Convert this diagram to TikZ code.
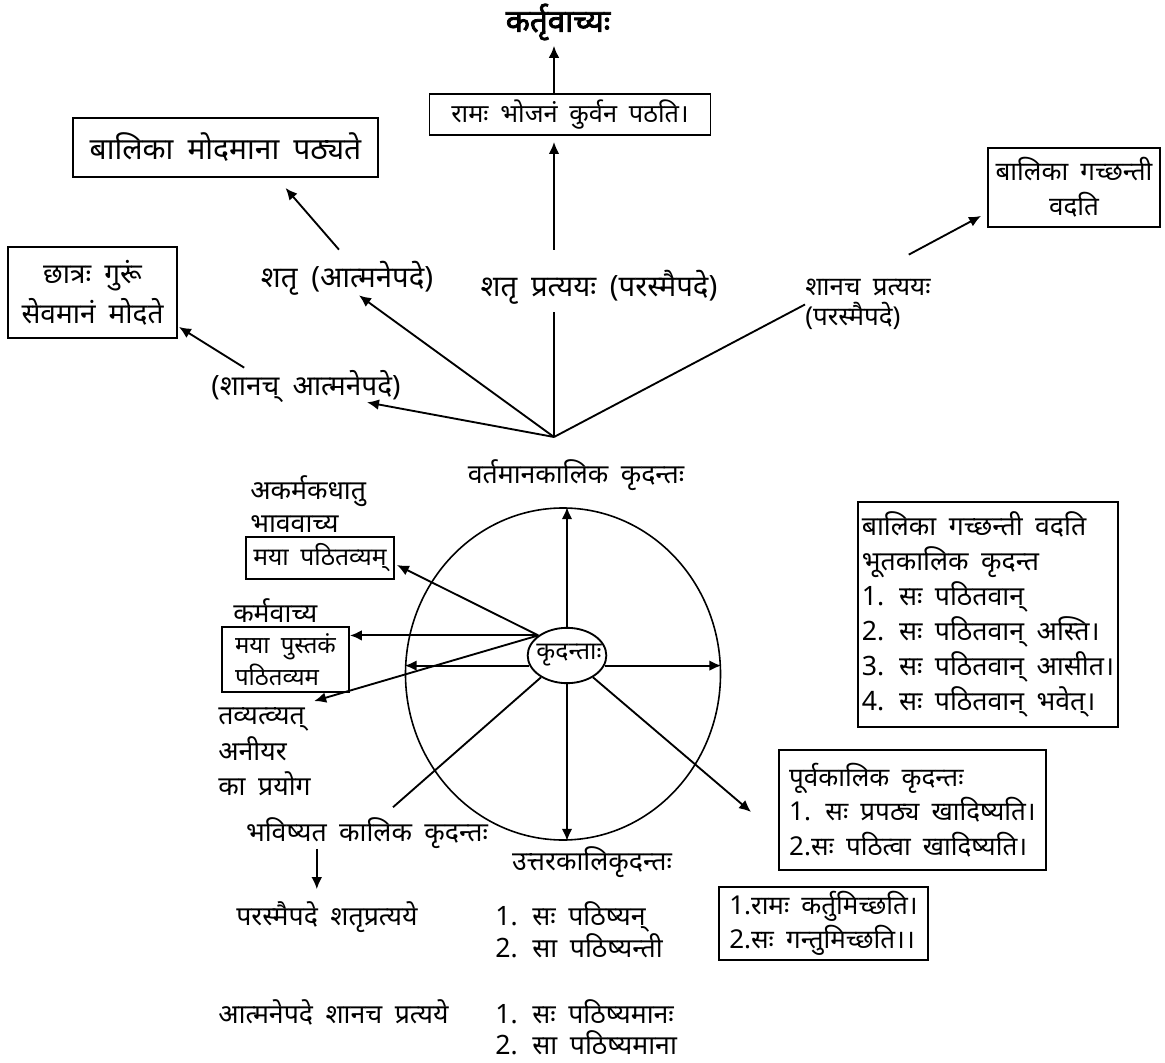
\documentclass[tikz,border=0pt]{standalone}
\usepackage{fontspec}
\setmainfont[Script=Devanagari, WordSpace=1.8]{Noto Sans}
\newfontfamily\ttlfont[Script=Devanagari, FakeBold=2.5]{Noto Sans}
\usetikzlibrary{shapes.geometric,arrows.meta,calc}
\newcommand{\fsz}[2]{\fontsize{#1}{#2}\selectfont}
\begin{document}
\begin{tikzpicture}[x=0.75pt,y=-0.75pt,
  txt/.style={inner sep=0pt, font=\fsz{20}{26}},
  txtL/.style={inner sep=0pt, font=\fsz{22}{28}},
  ttl/.style={inner sep=1pt, font=\ttlfont\fsz{23.5}{26}},
  box/.style={draw, line width=1.4pt, inner sep=0pt},
  arr/.style={-{Latex[length=9pt,width=8pt]}, line width=1.4pt},
  plain/.style={line width=1.4pt},
  ell/.style={draw, ellipse, inner sep=0pt, line width=1.2pt}]
\fill[white] (0,0) rectangle (1165,1063);
\useasboundingbox (0,0) rectangle (1165,1063);

% top part
\node[ttl] (title) at (558,22) {कर्तृवाच्यः};
\node[box, minimum width=210.75pt, minimum height=30.75pt, font=\fsz{19}{26}] (ram) at (570,114.5) {रामः भोजनं कुर्वन पठति।};
\node[box, minimum width=228.75pt, minimum height=44.25pt, font=\fsz{22.5}{28}] (moda) at (225.5,147.5) {बालिका मोदमाना पठ्यते};
\node[box, minimum width=129pt, minimum height=59.25pt, align=center, font=\fsz{19.5}{26}] (gach) at (1074,187.5) {बालिका गच्छन्ती\\वदति};
\node[box, minimum width=126.75pt, minimum height=68.25pt, align=center, font=\fsz{21}{30}] (chh) at (92.5,292.5) {छात्रः गुरूं\\सेवमानं मोदते};

\node[txtL] (shatr) at (347,278) {शतृ (आत्मनेपदे)};
\node[txtL] (shatrprat) at (599,287) {शतृ प्रत्ययः (परस्मैपदे)};
\node[inner sep=0pt, align=left, anchor=west, font=\fsz{19.5}{23}] (shp) at (805,304.5) {शानच प्रत्ययः\\(परस्मैपदे)};
\node[inner sep=0pt, font=\fsz{21}{28}] (shanach) at (306,386) {(शानच् आत्मनेपदे)};

\coordinate (J) at (554,437);
\draw[arr] (J |- ram.north) -- ($(J |- title.south)+(0,4)$);
\draw[arr] ($(J |- shatrprat.north)+(0,-20)$) -- ($(J |- ram.south)+(0,6)$);
\draw[plain] (J) -- ($(J |- shatrprat.south)+(0,8)$);
\draw[arr] (J) -- ($(shatr.south)+(12,0)$);
\draw[arr] ($(shatr.north)+(-8,-11)$) -- ($(moda.south)+(60,10)$);
\draw[arr] (J) -- (shanach.-15);
\draw[arr] ($(shanach.north west)+(33,-2)$) -- ($(chh.south east)+(1,-12)$);
\draw[plain] (J) -- (shp.west);
\draw[arr] ($(shp.north east)+(-22,-24)$) -- ($(gach.south west)+(-6,-12)$);

% centre
\node[txt] (vart) at (576,475) {वर्तमानकालिक कृदन्तः};
\node[txt, anchor=west] (akarm) at (250,491) {अकर्मकधातु};
\node[txt, anchor=west] (bhavv) at (250,524) {भाववाच्य};
\node[box, minimum width=111pt, minimum height=31.5pt, font=\fsz{18.5}{26}] (pathit) at (320,558) {मया पठितव्यम्};
\node[txt, anchor=west] (karmv) at (233,611) {कर्मवाच्य};
\node[box, minimum width=95.25pt, minimum height=48.75pt, align=left, font=\fsz{18}{24}] (pustak) at (285.5,659.5) {मया पुस्तकं\\पठितव्यम};
\node[txt, anchor=west] (tav1) at (218,720) {तव्यत्व्यत्};
\node[txt, anchor=west] (tav2) at (218,749) {अनीयर};
\node[txt, anchor=west] (tav3) at (218,784) {का प्रयोग};

\node[ell, minimum width=236.25pt, minimum height=249pt] (circ) at (563,674) {};
\node[ell, line width=1.4pt, minimum width=59pt, minimum height=41.5pt] (kr) at (567,655.5) {};
\node[inner sep=0pt, font=\fsz{18.5}{24}] (krt) at (569,655.5) {कृदन्ताः};

\draw[arr] (kr.north) -- (kr.north |- circ.north);
\draw[arr] (kr.south) -- (kr.south |- circ.south);
\draw[arr] (kr.-15) -- (kr.-15 -| circ.east);
\draw[arr] (kr.195) -- (kr.195 -| circ.west);
\coordinate (src) at (kr.145);
\draw[arr] (src) -- ($(pathit.east)+(2,7)$);
\draw[arr] (src) -- (src -| pustak.east);
\draw[arr] (src) -- ($(tav1.north east)+(9,-7)$);

\node[box, minimum width=195pt, minimum height=168.75pt, align=left, font=\fsz{20}{26.25}] (bhuta) at (988,614.5) {बालिका गच्छन्ती वदति\\भूतकालिक कृदन्त\\1. सः पठितवान्\\2. सः पठितवान् अस्ति।\\3. सः पठितवान् आसीत।\\4. सः पठितवान् भवेत्।};
\node[box, minimum width=200.25pt, minimum height=90pt, align=left, font=\fsz{19.5}{26}] (purva) at (912.5,810) {पूर्वकालिक कृदन्तः\\1. सः प्रपठ्य खादिष्यति।\\2.सः पठित्वा खादिष्यति।};

\node[txt] (bhav) at (367,833) {भविष्यत कालिक कृदन्तः};
\draw[plain] (kr.220) -- ($(bhav.north)+(26,-10)$);
\draw[arr] (kr.-40) -- ($(purva.west)+(-27,2)$);

% bottom
\node[txt] (uttar) at (592,862) {उत्तरकालिकृदन्तः};
\node[txt, anchor=west] (para) at (236,917) {परस्मैपदे शतृप्रत्यये};
\node[txt, anchor=west] (u1) at (495,917) {1. सः पठिष्यन्};
\node[txt, anchor=west] (u2) at (495,946) {2. सा पठिष्यन्ती};
\node[box, minimum width=156.75pt, minimum height=54.75pt, align=left, font=\fsz{19.5}{25.5}] (rk) at (823.5,923.5) {1.रामः कर्तुमिच्छति।\\2.सः गन्तुमिच्छति।।};
\node[txt, anchor=west] (atm) at (218,1012) {आत्मनेपदे शानच प्रत्यये};
\node[txt, anchor=west] (a1) at (495,1012) {1. सः पठिष्यमानः};
\node[txt, anchor=west] (a2) at (495,1043) {2. सा पठिष्यमाना};

\coordinate (bv) at ($(bhav.south west)+(71,0)$);
\draw[arr] (bv) -- ($(bv |- para.north)+(0,-12)$);
\end{tikzpicture}
\end{document}
